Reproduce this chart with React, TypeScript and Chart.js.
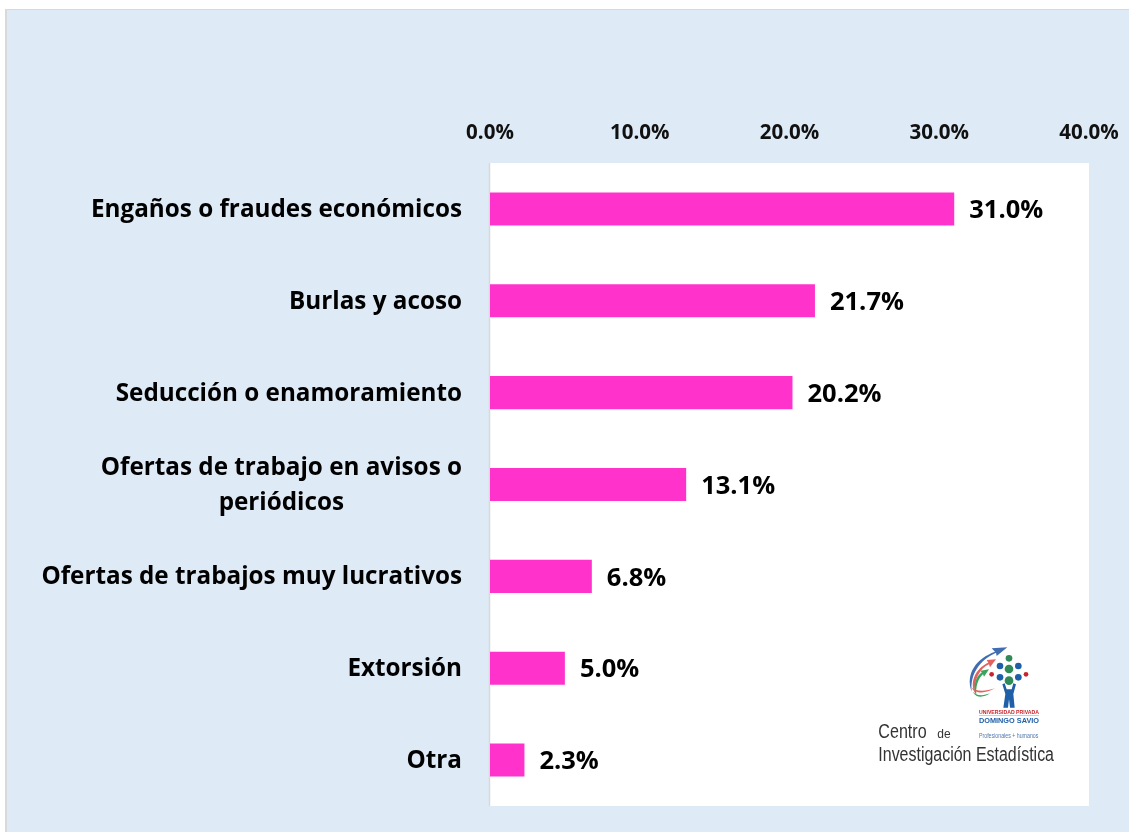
import React, { useEffect, useRef } from "react";
import { Chart, registerables } from "chart.js";

Chart.register(...registerables);

const categories: (string | string[])[] = [
  "Engaños o fraudes económicos",
  "Burlas y acoso",
  "Seducción o enamoramiento",
  ["Ofertas de trabajo en avisos o", "periódicos"],
  "Ofertas de trabajos muy lucrativos",
  "Extorsión",
  "Otra",
];
const values = [31.0, 21.7, 20.2, 13.1, 6.8, 5.0, 2.3];
const axisTicks = [0, 10, 20, 30, 40];
const FONT = "'Open Sans', 'Noto Sans', sans-serif";

const plugin = {
  id: "extras",
  beforeDraw(chart: any) {
    const { ctx, chartArea: a } = chart;
    ctx.save();
    ctx.fillStyle = "#ffffff";
    ctx.fillRect(a.left, a.top, a.right - a.left, a.bottom - a.top);
    ctx.strokeStyle = "#d9d9d9";
    ctx.lineWidth = 1.5;
    ctx.beginPath();
    ctx.moveTo(a.left - 0.5, a.top);
    ctx.lineTo(a.left - 0.5, a.bottom);
    ctx.stroke();
    ctx.restore();
  },
  afterDatasetsDraw(chart: any) {
    const { ctx, chartArea: a, scales } = chart;
    const meta = chart.getDatasetMeta(0);
    ctx.save();
    ctx.font = "bold 25.5px " + FONT;
    ctx.fillStyle = "#000";
    ctx.textBaseline = "middle";
    ctx.textAlign = "left";
    meta.data.forEach((el: any, i: number) => {
      ctx.fillText(values[i].toFixed(1) + "%", el.x + 15, el.y + 2);
    });
    // category labels, each block centred on its own widest line
    ctx.font = "bold 24.25px " + FONT;
    categories.forEach((c, i) => {
      const y = scales.y.getPixelForValue(i);
      const lines = Array.isArray(c) ? c : [c];
      const w = Math.max(...lines.map((l) => ctx.measureText(l).width));
      ctx.textAlign = "center";
      lines.forEach((l, k) => {
        ctx.fillText(l, a.left - 28 - w / 2, y + 1 + (k - (lines.length - 1) / 2) * 35);
      });
    });
    ctx.restore();
  },
};

function Logo() {
  const blue = "#1f5fa8";
  const green = "#2e8b57";
  const red = "#c8242c";
  const narrow = "'Liberation Sans Narrow', 'Liberation Sans'";
  return (
    <svg width={220} height={150} viewBox="0 0 660 450" style={{ position: "absolute", left: 860, top: 630 }}>
      <path d="M335 185 C315 130 350 85 405 65 L395 55 L442 52 L410 78 L408 68 C360 90 330 130 335 185 Z" fill="#3f6db0" />
      <path d="M345 190 C325 150 355 110 385 98 L380 90 L408 88 L390 112 L387 103 C360 115 340 150 345 190 Z" fill="#e2625f" />
      <path d="M350 200 C335 170 350 135 365 128 L362 122 L387 118 L372 140 L369 133 C355 145 345 170 350 200 Z" fill="#3aa45b" />
      <path d="M332 170 C345 185 375 185 405 175 C375 192 345 192 332 170 Z" fill="#e2625f" />
      <path d="M338 185 C350 198 370 198 390 190 C370 204 348 204 338 185 Z" fill="#3aa45b" />
      <circle cx={447} cy={85} r={10} fill={green} />
      <circle cx={420} cy={108} r={10} fill={blue} />
      <circle cx={475} cy={108} r={10} fill={blue} />
      <circle cx={447} cy={117} r={13} fill={green} />
      <circle cx={395} cy={133} r={7} fill={red} />
      <circle cx={498} cy={133} r={7} fill={red} />
      <circle cx={420} cy={142} r={10} fill={blue} />
      <circle cx={475} cy={142} r={10} fill={blue} />
      <circle cx={447} cy={152} r={13} fill={green} />
      <path d="M427 163 L434 160 L440 178 L455 178 L460 160 L468 163 L460 192 L464 233 L450 233 L447 208 L444 233 L430 233 L436 192 Z" fill={blue} />
      <text x={357} y={252} fontFamily="'Liberation Sans'" fontWeight="bold" fontSize={18} fill={red} textLength={180} lengthAdjust="spacingAndGlyphs">UNIVERSIDAD PRIVADA</text>
      <rect x={357} y={256} width={180} height={2} fill="#e8a0a0" />
      <text x={357} y={279} fontFamily="'Liberation Sans'" fontWeight="bold" fontSize={21} fill={blue} textLength={180} lengthAdjust="spacingAndGlyphs">DOMINGO SAVIO</text>
      <text x={357} y={325} fontFamily={narrow} fontSize={21} fill="#4f78ae" textLength={178} lengthAdjust="spacingAndGlyphs">Profesionales + humanos</text>
      <text x={55} y={325} fontFamily={narrow} fontSize={60} fill="#333" textLength={145} lengthAdjust="spacingAndGlyphs">Centro</text>
      <text x={232} y={325} fontFamily={narrow} fontSize={38} fill="#333" textLength={40} lengthAdjust="spacingAndGlyphs">de</text>
      <text x={55} y={392} fontFamily={narrow} fontSize={60} fill="#333" textLength={527} lengthAdjust="spacingAndGlyphs">Investigación Estadística</text>
    </svg>
  );
}

export default function App() {
  const ref = useRef<HTMLCanvasElement>(null);
  useEffect(() => {
    document.body.style.margin = "0";
    const chart = new Chart(ref.current!, {
      type: "bar",
      data: {
        labels: categories as any,
        datasets: [{ data: values, backgroundColor: "#ff33cc", barPercentage: 0.36, categoryPercentage: 1 }],
      },
      plugins: [plugin],
      options: {
        indexAxis: "y",
        animation: false,
        responsive: false,
        layout: { padding: { left: 0, right: 40, top: 0, bottom: 26 } },
        plugins: {
          legend: { display: false },
          tooltip: { enabled: false },
        },
        scales: {
          x: {
            position: "top",
            min: 0,
            max: 40,
            afterBuildTicks: (s: any) => { s.ticks = axisTicks.map((v) => ({ value: v })); },
            afterFit: (s: any) => { s.height = 163; },
            grid: { display: false },
            border: { display: false },
            ticks: {
              callback: (v: any) => Number(v).toFixed(1) + "%",
              color: "#111111",
              font: { family: FONT, weight: "bold", size: 20.5 },
              maxRotation: 0,
              padding: 10,
            },
          },
          y: {
            afterFit: (s: any) => { s.width = 490; },
            grid: { display: false },
            border: { display: false },
            ticks: { display: false },
          },
        },
      },
    });
    return () => chart.destroy();
  }, []);
  return (
    <div style={{ position: "relative", width: 1129, height: 832, background: "#ffffff", overflow: "hidden" }}>
      <div style={{ position: "absolute", left: 5, top: 9, right: 0, bottom: 0, background: "#deeaf6", boxSizing: "border-box", borderLeft: "2px solid #d9d9d9", borderTop: "1.5px solid #d9d9d9" }} />
      <canvas ref={ref} width={1129} height={832} style={{ position: "absolute", left: 0, top: 0 }} />
      <Logo />
    </div>
  );
}
